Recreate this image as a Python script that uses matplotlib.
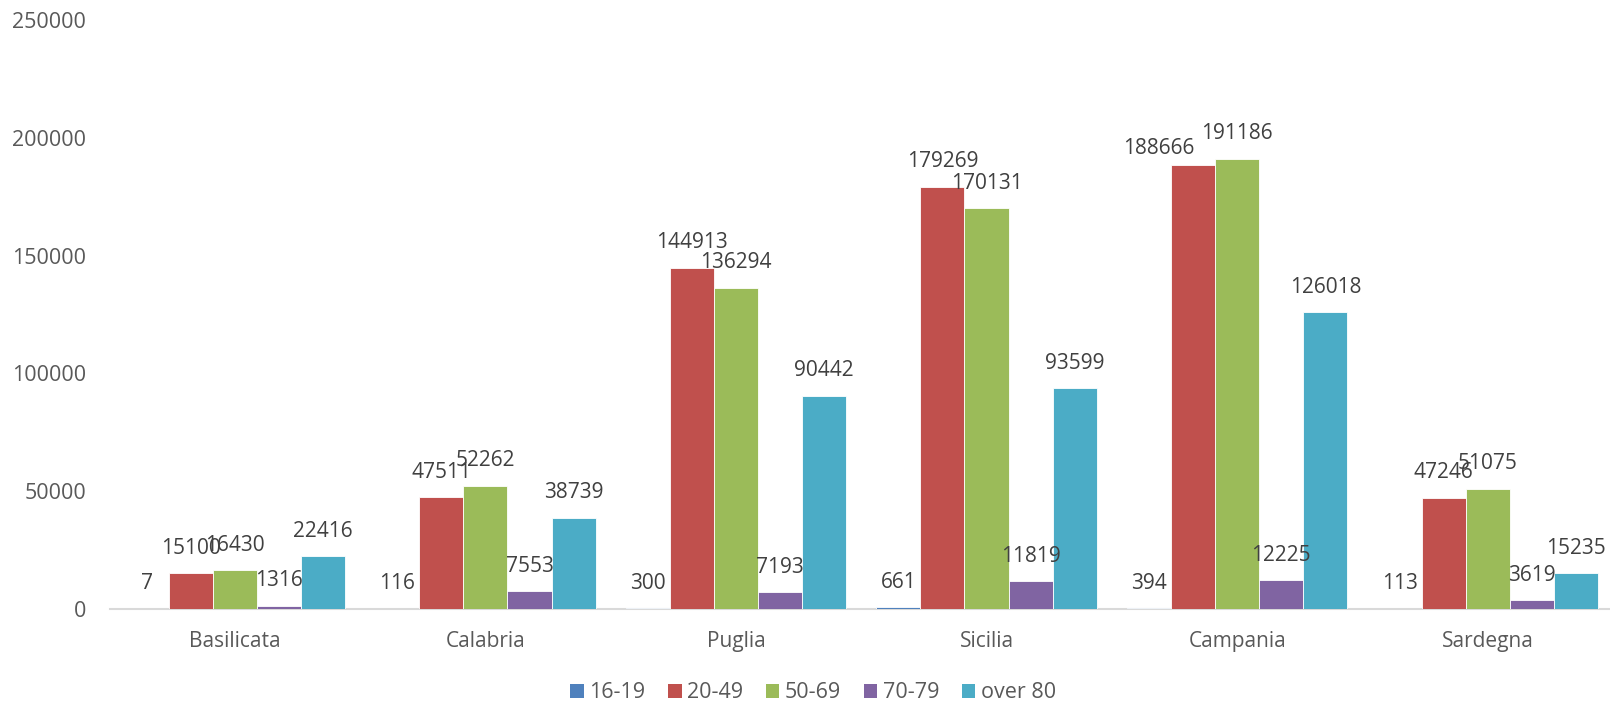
import matplotlib
matplotlib.use("Agg")
import matplotlib.pyplot as plt
from matplotlib.patches import Patch

regions = ["Basilicata", "Calabria", "Puglia", "Sicilia", "Campania", "Sardegna"]
series_names = ["16-19", "20-49", "50-69", "70-79", "over 80"]
v_16_19 = [7, 116, 300, 661, 394, 113]
v_20_49 = [15100, 47511, 144913, 179269, 188666, 47246]
v_50_69 = [16430, 52262, 136294, 170131, 191186, 51075]
v_70_79 = [1316, 7553, 7193, 11819, 12225, 3619]
v_over80 = [22416, 38739, 90442, 93599, 126018, 15235]
yticks = [0, 50000, 100000, 150000, 200000, 250000]

series = [v_16_19, v_20_49, v_50_69, v_70_79, v_over80]
colors = ["#4F81BD", "#C0504D", "#9BBB59", "#8064A2", "#4BACC6"]

# manually moved data labels (series index, category index) -> (dx, dy) in points
label_shift = {(1, 4): (-25, -6.5)}

plt.rcParams['font.family'] = ['Open Sans', 'DejaVu Sans']
W, H = 1610, 704
fig = plt.figure(figsize=(W / 100, H / 100), dpi=100)
left, right = 109.5, 1613
bottom_px, top_px = 609, 20
ax = fig.add_axes([left / W, 1 - bottom_px / H, (right - left) / W, (bottom_px - top_px) / H])

bw = 0.176
n = len(series)
for j, vals in enumerate(series):
    xs = [i + (j - (n - 1) / 2) * bw for i in range(len(regions))]
    ax.bar(xs, vals, width=bw, color=colors[j], edgecolor="white", linewidth=0.6, zorder=2)
    for i, (x, v) in enumerate(zip(xs, vals)):
        dx, dy = label_shift.get((j, i), (0, 0))
        ax.annotate(str(v), (x, v), xytext=(dx, 18 + dy), textcoords="offset points",
                    ha="center", va="center", fontsize=15, color="#404040", zorder=3)

ax.set_xlim(-0.5, len(regions) - 0.5)
ax.set_ylim(0, 250000)
ax.set_yticks(yticks)
ax.set_yticklabels([str(t) for t in yticks])
ax.set_xticks(range(len(regions)))
ax.set_xticklabels(regions)
ax.tick_params(axis="y", length=0, pad=17, labelsize=15.5, labelcolor="#595959")
ax.tick_params(axis="x", length=0, pad=16, labelsize=15, labelcolor="#595959")
for s in ["top", "right", "left"]:
    ax.spines[s].set_visible(False)
ax.spines["bottom"].set_color("#d9d9d9")
ax.spines["bottom"].set_linewidth(1.5)
ax.spines["bottom"].set_zorder(1)

handles = [Patch(facecolor=c, edgecolor="none") for c in colors]
leg = fig.legend(handles, series_names, loc="center", bbox_to_anchor=(0.505, 1 - 693 / H),
                 ncol=5, frameon=False, fontsize=15.5, handlelength=0.63, handleheight=0.63,
                 handletextpad=0.25, columnspacing=1.05, labelcolor="#595959")

fig.savefig("out.png", dpi=100, facecolor="white")
